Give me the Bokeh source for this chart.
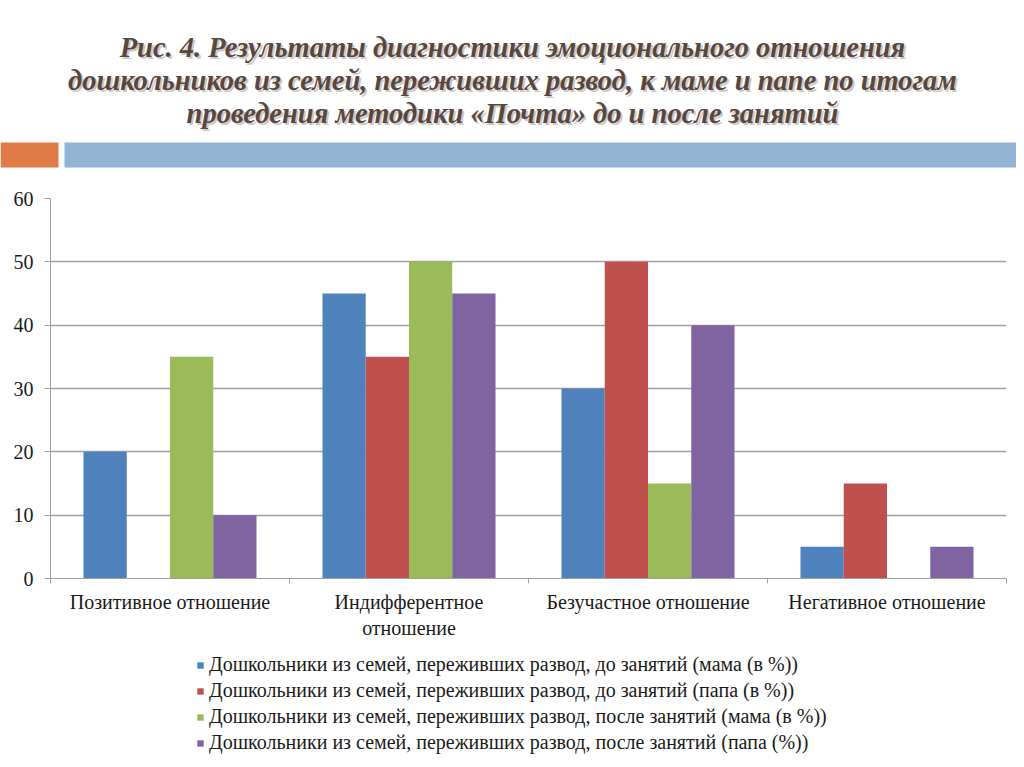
from bokeh.plotting import figure
from bokeh.layouts import column
from bokeh.models import Range1d, FixedTicker, Legend, LegendItem, ColumnDataSource
from bokeh.core.properties import value
from bokeh.embed import file_html
from bokeh.resources import INLINE

# ---- data ----
categories = ["Позитивное отношение", "Индифферентное\nотношение",
              "Безучастное отношение", "Негативное отношение"]
series_names = [
    "Дошкольники из семей, переживших развод, до занятий (мама (в %))",
    "Дошкольники из семей, переживших развод, до занятий (папа (в %))",
    "Дошкольники из семей, переживших развод, после занятий (мама (в %))",
    "Дошкольники из семей, переживших развод, после занятий (папа (%))",
]
before_mom = [20, 45, 30, 5]
before_dad = [0, 35, 50, 15]
after_mom = [35, 50, 15, 0]
after_dad = [10, 45, 40, 5]
series_values = [before_mom, before_dad, after_mom, after_dad]
colors = ["#4F81BD", "#C0504D", "#9BBB59", "#8064A2"]
y_ticks = [0, 10, 20, 30, 40, 50, 60]
title_lines = [
    "Рис. 4. Результаты диагностики эмоционального отношения",
    "дошкольников из семей, переживших развод, к маме и папе по итогам",
    "проведения методики «Почта» до и после занятий",
]

W = 1016
HEAD_H = 180
FOOT_H = 117


def no_align(fig):
    if "frame_align" in fig.properties():
        fig.frame_align = False


# ---- header (title + decorative bars) ----
head = figure(width=W, height=HEAD_H, output_backend="svg", toolbar_location=None,
              x_range=Range1d(0, W), y_range=Range1d(HEAD_H, 0),
              min_border=0, x_axis_type=None, y_axis_type=None)
head.outline_line_color = None
head.grid.visible = False
no_align(head)
head.quad(left=[0, 64], right=[58, W], top=[142, 142], bottom=[167, 167],
          fill_color=["#E07B45", "#93B3D3"], line_color=None)
ty = [47 + 33 * i for i in range(len(title_lines))]
head.text(x=[514] * 3, y=[t + 2 for t in ty], text=title_lines,
          text_align="center", text_baseline="middle",
          text_font=value("Liberation Serif"), text_font_style="bold italic",
          text_font_size="28.5px", text_color="#CFC8C4")
head.text(x=[512] * 3, y=ty, text=title_lines,
          text_align="center", text_baseline="middle",
          text_font=value("Liberation Serif"), text_font_style="bold italic",
          text_font_size="28.5px", text_color="#57473F")

# ---- main chart ----
p = figure(width=W, height=462, output_backend="svg", toolbar_location=None,
           x_range=Range1d(0, len(categories)), y_range=Range1d(0, 60),
           min_border_left=50, min_border_right=10, min_border_top=18,
           min_border_bottom=64)
p.outline_line_color = None
no_align(p)

bar_w = 0.181
offsets = [-1.5 * bar_w, -0.5 * bar_w, 0.5 * bar_w, 1.5 * bar_w]
for name, vals, col, off in zip(series_names, series_values, colors, offsets):
    src = ColumnDataSource(dict(x=[i + 0.5 + off for i in range(len(categories))], top=vals))
    p.vbar(x="x", top="top", width=bar_w, bottom=0, source=src,
           fill_color=col, line_color=None)

xa = p.xaxis[0]
xa.ticker = FixedTicker(ticks=[i + 0.5 for i in range(len(categories))],
                        minor_ticks=list(range(len(categories) + 1)))
xa.major_label_overrides = {i + 0.5: c for i, c in enumerate(categories)}
xa.major_tick_line_color = None
xa.major_tick_out = 0
xa.major_tick_in = 0
xa.minor_tick_out = 5
xa.minor_tick_in = 0
xa.minor_tick_line_color = "#A0A0A0"
xa.axis_line_color = "#A0A0A0"
xa.major_label_text_font = "Liberation Serif"
xa.major_label_text_font_size = "20px"
xa.major_label_text_color = "#1a1a1a"
xa.major_label_standoff = 7

ya = p.yaxis[0]
ya.ticker = FixedTicker(ticks=y_ticks)
ya.minor_tick_line_color = None
ya.major_tick_out = 6
ya.major_tick_in = 0
ya.major_tick_line_color = "#A0A0A0"
ya.axis_line_color = "#A0A0A0"
ya.major_label_text_font = "Liberation Serif"
ya.major_label_text_font_size = "20px"
ya.major_label_text_color = "#1a1a1a"
ya.major_label_standoff = 11

p.xgrid.grid_line_color = None
p.ygrid.grid_line_color = "#A0A0A0"
p.ygrid.grid_line_width = 1.5

# ---- legend panel (swatch proxies lie outside the visible range) ----
foot = figure(width=W, height=FOOT_H, output_backend="svg", toolbar_location=None,
              x_range=Range1d(0, W), y_range=Range1d(FOOT_H, 0),
              min_border=0, x_axis_type=None, y_axis_type=None)
foot.outline_line_color = None
foot.grid.visible = False
no_align(foot)
items = []
for name, col in zip(series_names, colors):
    r = foot.quad(left=[-30], right=[-20], top=[-30], bottom=[-20],
                  fill_color=col, line_color=None)
    items.append(LegendItem(label=name, renderers=[r]))
legend = Legend(items=items, location=(196, 5), orientation="vertical",
                glyph_width=8, glyph_height=8, label_standoff=5,
                label_text_font="Liberation Serif", label_text_font_size="20px",
                label_text_color="#1a1a1a", label_height=23, spacing=3,
                padding=0, margin=0, border_line_color=None,
                background_fill_alpha=0)
foot.add_layout(legend)

open("out.html", "w").write(file_html(column(head, p, foot, spacing=0), INLINE))
